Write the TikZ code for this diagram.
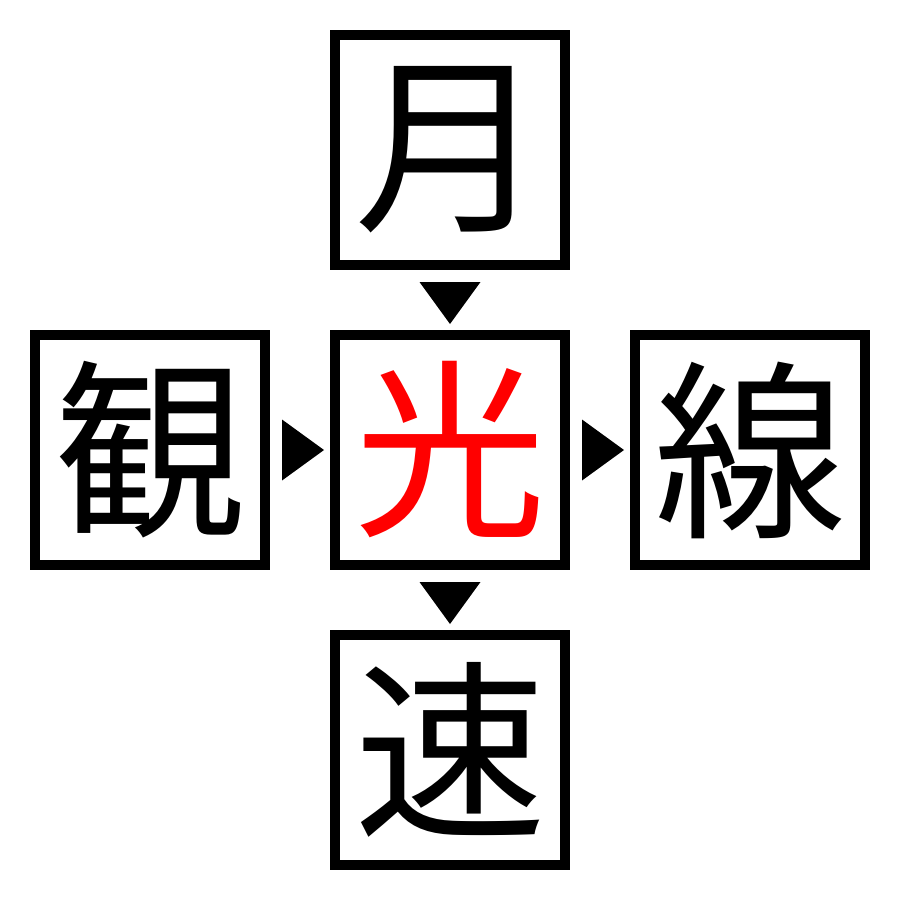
\documentclass[tikz,border=0pt]{standalone}
\usepackage{fontspec}
\usetikzlibrary{calc}
\newfontfamily\cjk{Noto Sans CJK JP}
\begin{document}
\begin{tikzpicture}[x=1pt,y=-1pt,
  charbox/.style={draw=black,line width=10pt,minimum size=230pt,inner sep=0pt,outer sep=0pt,
    font=\cjk\fontsize{192}{192}\selectfont,text=black},
  tri/.style={fill=black,draw=none}]
\useasboundingbox (0,0) rectangle (900,900);
\node[charbox] (top) at (450,150) {月};
\node[charbox,text=red] (mid) at (450,450) {光};
\node[charbox] (left) at (150,450) {観};
\node[charbox] (right) at (750,450) {線};
\node[charbox] (bot) at (450,750) {速};
% triangle markers between boxes
\coordinate (d1) at ($(top.south)!0.5!(mid.north)+(0,3)$);
\coordinate (d2) at ($(mid.south)!0.5!(bot.north)+(0,3)$);
\coordinate (r1) at ($(left.east)!0.5!(mid.west)+(3,0)$);
\coordinate (r2) at ($(mid.east)!0.5!(right.west)+(3,0)$);
\fill[tri] ($(d1)+(-30.5,-21)$) -- ($(d1)+(30.5,-21)$) -- ($(d1)+(0,21)$) -- cycle;
\fill[tri] ($(d2)+(-30.5,-21)$) -- ($(d2)+(30.5,-21)$) -- ($(d2)+(0,21)$) -- cycle;
\fill[tri] ($(r1)+(-21,-30.5)$) -- ($(r1)+(-21,30.5)$) -- ($(r1)+(21,0)$) -- cycle;
\fill[tri] ($(r2)+(-21,-30.5)$) -- ($(r2)+(-21,30.5)$) -- ($(r2)+(21,0)$) -- cycle;
\end{tikzpicture}
\end{document}
